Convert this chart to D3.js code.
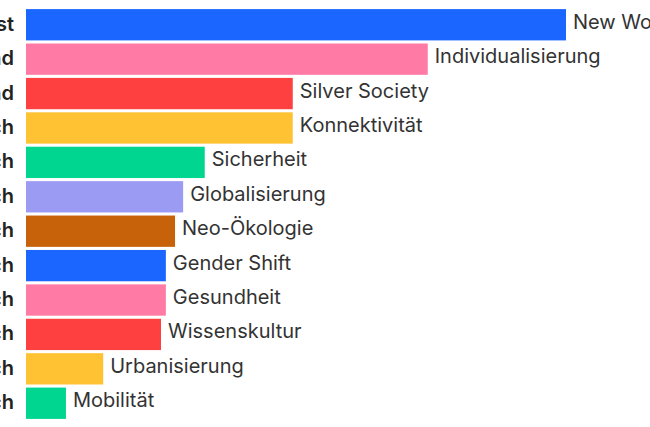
<!DOCTYPE html>
<html><head><meta charset="utf-8">
<script src="https://cdn.jsdelivr.net/npm/d3@7"></script>
<style>body{margin:0;background:#fff;overflow:hidden}</style>
</head><body>
<svg id="chart" width="650" height="427"></svg>
<script>
// trend names, scores and the (cut off) rating labels on the left
var trends = ["New Work","Individualisierung","Silver Society","Konnektivität","Sicherheit","Globalisierung","Neo-Ökologie","Gender Shift","Gesundheit","Wissenskultur","Urbanisierung","Mobilität"];
var scores = [100, 74.4, 49.4, 49.4, 33.1, 29.1, 27.6, 25.9, 25.9, 25, 14.3, 7.4];
var ratings = ["Höchst","Bedeutend","Bedeutend","Hoch","Hoch","Hoch","Hoch","Hoch","Hoch","Hoch","Hoch","Hoch"];
var colors = ["#1a66ff","#ff7ba6","#ff4040","#ffc233","#00d68f","#9b9bf4","#c8620a","#1a66ff","#ff7ba6","#ff4040","#ffc233","#00d68f"];

var svg = d3.select("#chart");
var x = d3.scaleLinear().domain([0, 100]).range([26, 566]);
var y = d3.scaleBand().domain(trends).range([6, 422]).padding(0.09);

svg.selectAll("rect").data(trends).enter().append("rect")
  .attr("x", x(0))
  .attr("y", function(d) { return y(d); })
  .attr("width", function(d, i) { return x(scores[i]) - x(0); })
  .attr("height", y.bandwidth())
  .attr("fill", function(d, i) { return colors[i]; });

svg.selectAll("text.name").data(trends).enter().append("text")
  .attr("class", "name")
  .attr("x", function(d, i) { return x(scores[i]) + 7; })
  .attr("y", function(d) { return y(d) + y.bandwidth() / 2; })
  .attr("dy", "0.2em")
  .style("font", "20px 'Inter', 'Noto Sans', sans-serif")
  .attr("fill", "#333")
  .text(function(d) { return d; });

svg.selectAll("text.rating").data(trends).enter().append("text")
  .attr("class", "rating")
  .attr("x", 14)
  .attr("y", function(d) { return y(d) + y.bandwidth() / 2; })
  .attr("dy", "0.3em")
  .attr("text-anchor", "end")
  .style("font", "600 20px 'Inter', 'Noto Sans', sans-serif")
  .attr("fill", "#222")
  .text(function(d, i) { return ratings[i]; });
</script>
</body></html>
